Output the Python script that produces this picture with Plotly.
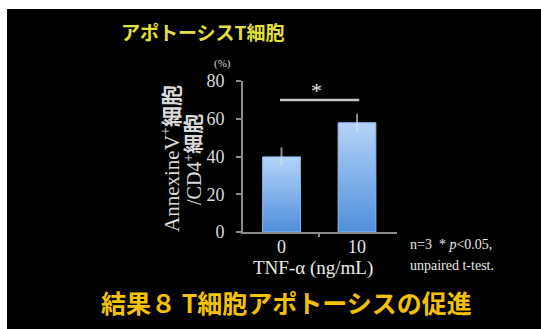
import plotly.graph_objects as go

# Data
doses = ["0", "10"]
apoptosis_pct = [39.8, 57.9]
apoptosis_err = [5.0, 4.8]
y_ticks = [0, 20, 40, 60, 80]

W, H = 541, 329
L, R, T, B = 243, 397, 81, 232   # plot area in pixels


def px(x):
    return (x - L) / (R - L)


def py(y):
    return (B - y) / (B - T)


fig = go.Figure()

# Bars as filled polygons so they can carry a vertical gradient
half = 0.25
for i, (v, e) in enumerate(zip(apoptosis_pct, apoptosis_err)):
    fig.add_trace(go.Scatter(
        x=[i - half, i - half, i + half, i + half, i - half],
        y=[0, v, v, 0, 0],
        mode="lines",
        fill="toself",
        line=dict(color="#8dbbee", width=1),
        fillgradient=dict(type="vertical", start=0, stop=v,
                          colorscale=[[0, "#4f8fdc"], [1, "#b4d4f8"]]),
        hoverinfo="skip",
        showlegend=False,
    ))

# Error bars (no caps)
fig.add_trace(go.Scatter(
    x=[0, 1], y=apoptosis_pct, mode="markers",
    marker=dict(size=1, opacity=0),
    error_y=dict(type="data", array=apoptosis_err, visible=True,
                 color="rgba(225,225,225,0.6)", thickness=2, width=0),
    hoverinfo="skip", showlegend=False,
))

# Significance bracket
fig.add_shape(type="line", x0=-0.02, x1=1.03, y0=70, y1=70,
              line=dict(color="#c4c4c4", width=2.5))

serif = "Liberation Serif, Noto Sans CJK JP"
tickserif = "Liberation Serif, Times New Roman, serif"
jp = "Noto Sans CJK JP"
grey = "#dadada"

fig.update_layout(
    width=W, height=H,
    margin=dict(l=L, r=W - R, t=T, b=H - B),
    paper_bgcolor="white",
    plot_bgcolor="rgba(0,0,0,0)",
    showlegend=False,
    xaxis=dict(
        range=[-0.51, 1.53], tickvals=[0, 1], ticktext=doses,
        showgrid=False, zeroline=False, showline=True,
        linecolor="#8a8a8a", linewidth=2, ticks="",
        ticklabelstandoff=-3,
        tickfont=dict(family=tickserif, size=18, color="#e6e6e6"),
        minor=dict(tickvals=[0.5], ticks="outside", ticklen=3,
                   tickcolor="#8a8a8a", tickwidth=2),
    ),
    yaxis=dict(
        range=[0, 80], tickvals=y_ticks,
        showgrid=False, zeroline=False, showline=True,
        linecolor="#8a8a8a", linewidth=2,
        ticks="outside", ticklen=5, tickcolor="#8a8a8a", tickwidth=2,
        ticklabelstandoff=8,
        tickfont=dict(family=tickserif, size=18, color=grey),
    ),
)

# Black slide background with a thin white margin at top and left
fig.add_shape(type="rect", xref="paper", yref="paper", layer="below",
              x0=px(7), x1=px(W + 5), y0=py(H + 5), y1=py(9),
              fillcolor="black", line=dict(width=0))


def text(x, y, s, size, color, family, xanchor="center", **kw):
    fig.add_annotation(xref="paper", yref="paper", x=px(x), y=py(y),
                       xanchor=xanchor, yanchor="middle",
                       text=s, showarrow=False,
                       font=dict(size=size, color=color, family=family), **kw)


text(203, 32, "<b>アポトーシスT細胞</b>", 19, "#e2e23c", jp)
text(222, 63, "(%)", 11, grey, serif)
text(170, 159, "AnnexineV<sup>+</sup><b>細胞</b>", 21, grey, serif, textangle=-90)
text(193, 160, "/CD4<sup>+</sup><b>細胞</b>", 20, grey, serif, textangle=-90)
text(316, 90, "*", 22, "#e8e8e8", serif)
text(313, 268, "TNF-α (ng/mL)", 19, "#ececec", serif)
text(408, 244, "n=3  * <i>p</i><0.05,", 14, "#e8e8e8", serif, xanchor="left")
text(408, 265, "unpaired t-test.", 14, "#e8e8e8", serif, xanchor="left")
text(286, 302, "<b>結果８ T細胞アポトーシスの促進</b>", 25, "#f2c200", jp)

fig.write_html("out.html")
